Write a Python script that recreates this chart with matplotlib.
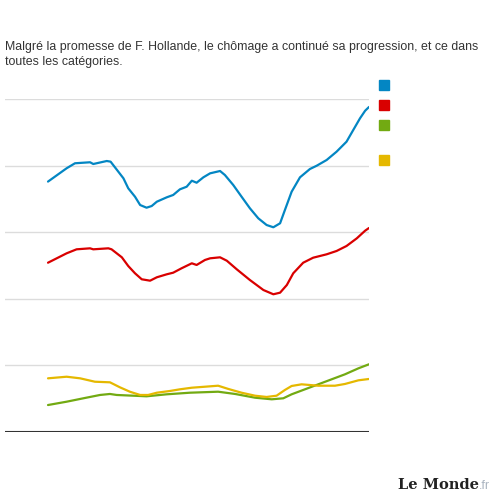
import matplotlib
matplotlib.use("Agg")
import matplotlib.pyplot as plt
from matplotlib.patches import Rectangle

plt.rcParams['font.family'] = ['Liberation Sans', 'DejaVu Sans']

# donnees (temps 0-100, valeurs en unites de grille)
t_bleu = [0, 5.8, 8.4, 13.1, 14.1, 18.3, 19.5, 23.5, 25.0, 27.1, 28.7, 30.7, 32.3,
          33.9, 37.0, 39.0, 41.1, 43.2, 44.8, 46.3, 48.4, 50.5, 53.6, 55.1, 57.7,
          60.3, 62.9, 65.5, 68.1, 70.2, 72.3, 73.8, 75.9, 78.5, 81.6, 83.7, 86.8,
          89.9, 93.0, 95.1, 97.2, 98.8, 100]
v_bleu = [3.76, 3.96, 4.035, 4.05, 4.024, 4.069, 4.059, 3.809, 3.659, 3.533, 3.408,
          3.368, 3.393, 3.458, 3.524, 3.559, 3.644, 3.683, 3.773, 3.743, 3.824, 3.884,
          3.919, 3.859, 3.709, 3.533, 3.359, 3.209, 3.108, 3.074, 3.134, 3.333, 3.608,
          3.824, 3.949, 3.998, 4.084, 4.209, 4.359, 4.535, 4.71, 4.824, 4.88]

t_rouge = [0, 5.8, 8.9, 13.1, 14.1, 18.8, 19.8, 23.0, 25.0, 27.1, 29.2, 31.8, 33.9,
           37.0, 39.0, 41.6, 44.8, 46.3, 48.9, 50.5, 53.6, 55.7, 58.8, 62.9, 67.1,
           70.2, 72.3, 74.4, 76.4, 79.5, 82.6, 86.8, 89.9, 93.0, 96.2, 98.8, 100]
v_rouge = [2.542, 2.683, 2.743, 2.758, 2.743, 2.758, 2.743, 2.623, 2.492, 2.383, 2.293,
           2.272, 2.323, 2.368, 2.392, 2.458, 2.533, 2.508, 2.583, 2.608, 2.623, 2.572,
           2.443, 2.282, 2.132, 2.068, 2.092, 2.207, 2.383, 2.542, 2.617, 2.668, 2.718,
           2.793, 2.908, 3.023, 3.063]

t_vert = [0, 5.8, 11.0, 16.2, 19.3, 21.4, 26.6, 30.7, 37.0, 44.2, 53.0, 58.3, 64.5,
          69.7, 73.3, 75.9, 84.2, 92.5, 96.7, 100]
v_vert = [0.405, 0.455, 0.506, 0.556, 0.571, 0.556, 0.545, 0.536, 0.566, 0.590, 0.605,
          0.571, 0.515, 0.491, 0.506, 0.566, 0.716, 0.866, 0.956, 1.017]

t_jaune = [0, 5.8, 10.0, 14.6, 19.3, 22.4, 25.5, 28.7, 31.2, 33.9, 38.0, 41.1, 44.8,
           53.0, 56.2, 60.3, 64.5, 68.1, 71.2, 73.8, 75.9, 79.0, 84.2, 89.4, 92.5,
           96.7, 100]
v_jaune = [0.806, 0.830, 0.806, 0.755, 0.746, 0.671, 0.605, 0.556, 0.556, 0.590, 0.616,
           0.641, 0.665, 0.695, 0.646, 0.590, 0.545, 0.526, 0.545, 0.631, 0.691, 0.716,
           0.695, 0.695, 0.721, 0.776, 0.796]

series = [(t_bleu, v_bleu, '#0386c3'),
          (t_rouge, v_rouge, '#d90000'),
          (t_vert, v_vert, '#72aa12'),
          (t_jaune, v_jaune, '#e5b800')]

fig = plt.figure(figsize=(5, 5), dpi=100)
ax = fig.add_axes([0.01, 0.136, 0.728, 0.666])

for y in [1, 2, 3, 4, 5]:
    ax.axhline(y, color='#dcdcdc', lw=1, zorder=0)
ax.axhline(0, color='#333333', lw=1.5, zorder=3)

for t, v, c in series:
    ax.plot(t, v, color=c, lw=1.6, solid_capstyle='round')

ax.set_xlim(-13.4, 100)
ax.set_ylim(0, 5)
ax.axis('off')

fig.text(0.01, 0.918, "Malgré la promesse de F. Hollande, le chômage a continué sa progression, et ce dans\ntoutes les catégories.",
         fontsize=8.95, color='#333333', va='top', linespacing=1.38)

# petits carres de legende
for yy, c in [(80, '#0386c3'), (100, '#d90000'), (120, '#72aa12'), (155, '#e5b800')]:
    fig.patches.append(Rectangle((379 / 500, 1 - (yy + 10) / 500), 10 / 500, 10 / 500,
                                 transform=fig.transFigure, color=c))

logo = fig.text(0.796, 0.022, "Le Monde", fontsize=10.5, fontweight='bold',
                family='DejaVu Serif', color='#222222')
ax.annotate(".fr", xy=(1, 0), xycoords=logo, fontsize=9, color='#aab4c0',
            va='bottom', ha='left', annotation_clip=False)

fig.savefig("out.png")
